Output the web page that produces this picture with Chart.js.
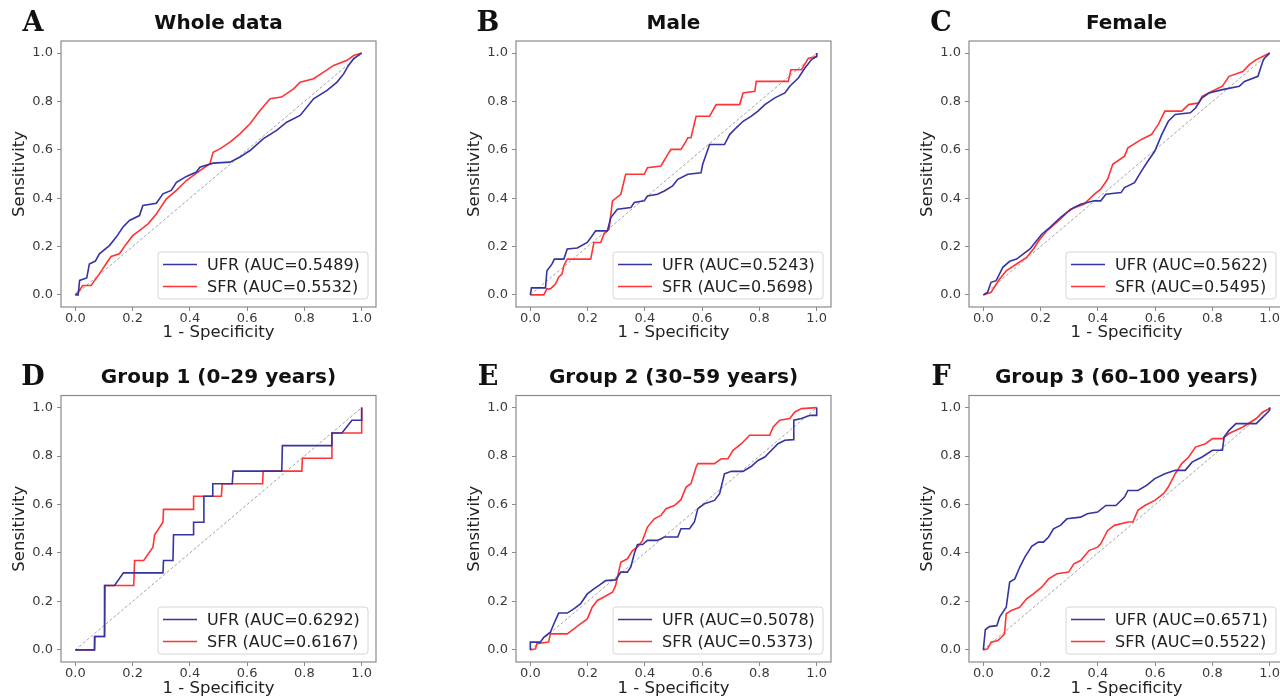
<!DOCTYPE html>
<html lang="en">
<head>
<meta charset="UTF-8">
<title>ROC curves UFR / SFR</title>
<style>
  body {
    margin: 0;
    width: 1280px;
    height: 697px;
    overflow: hidden;
    background: #fff;
    position: relative;
    font-family: "DejaVu Sans", sans-serif;
  }
  .panel {
    position: absolute;
  }
</style>
<script src="https://cdn.jsdelivr.net/npm/chart.js"></script>
</head>
<body>
<div class="panel" style="left:0px;top:0px"><canvas id="pA" width="430" height="350"></canvas></div>
<div class="panel" style="left:455px;top:0px"><canvas id="pB" width="430" height="350"></canvas></div>
<div class="panel" style="left:908px;top:0px"><canvas id="pC" width="430" height="350"></canvas></div>
<div class="panel" style="left:0px;top:340px"><canvas id="pD" width="430" height="357"></canvas></div>
<div class="panel" style="left:455px;top:340px"><canvas id="pE" width="430" height="357"></canvas></div>
<div class="panel" style="left:908px;top:340px"><canvas id="pF" width="430" height="357"></canvas></div>
<script>
// panel labels
const letters = ['A', 'B', 'C', 'D', 'E', 'F'];
const titles = ['Whole data', 'Male', 'Female', 'Group 1 (0\u201329 years)', 'Group 2 (30\u201359 years)', 'Group 3 (60\u2013100 years)'];
const aucUFR = ['0.5489', '0.5243', '0.5622', '0.6292', '0.5078', '0.6571'];
const aucSFR = ['0.5532', '0.5698', '0.5495', '0.6167', '0.5373', '0.5522'];
const tickVals = [0, 0.2, 0.4, 0.6, 0.8, 1.0];
const chance = [[0, 0], [1, 1]];

// [1 - specificity, sensitivity]
const wholeUFR = [[0,0],[0.01,0],[0.015,0.06],[0.04,0.07],[0.049,0.128],[0.07,0.14],[0.084,0.17],[0.119,0.204],[0.143,0.239],[0.166,0.28],[0.189,0.308],[0.224,0.328],[0.236,0.37],[0.283,0.379],[0.306,0.418],[0.335,0.432],[0.353,0.466],[0.388,0.49],[0.423,0.508],[0.435,0.528],[0.481,0.545],[0.54,0.549],[0.575,0.57],[0.61,0.597],[0.657,0.646],[0.703,0.68],[0.738,0.714],[0.785,0.742],[0.832,0.811],[0.879,0.846],[0.914,0.88],[0.937,0.914],[0.954,0.949],[0.972,0.977],[1,1]];
const wholeSFR = [[0,0],[0.014,0.018],[0.026,0.039],[0.055,0.039],[0.084,0.087],[0.107,0.128],[0.125,0.159],[0.154,0.17],[0.178,0.211],[0.201,0.246],[0.224,0.266],[0.254,0.294],[0.283,0.335],[0.318,0.397],[0.353,0.432],[0.388,0.473],[0.435,0.514],[0.47,0.542],[0.481,0.59],[0.505,0.604],[0.54,0.632],[0.575,0.666],[0.61,0.708],[0.645,0.763],[0.68,0.811],[0.72,0.818],[0.762,0.852],[0.785,0.88],[0.832,0.894],[0.867,0.921],[0.902,0.949],[0.949,0.97],[0.972,0.99],[1,1]];

const maleUFR = [[0,0],[0.004,0.029],[0.053,0.029],[0.058,0.1],[0.076,0.128],[0.084,0.148],[0.117,0.148],[0.129,0.19],[0.164,0.194],[0.199,0.217],[0.216,0.245],[0.228,0.265],[0.269,0.265],[0.281,0.32],[0.304,0.354],[0.351,0.361],[0.363,0.382],[0.398,0.389],[0.409,0.409],[0.444,0.416],[0.468,0.43],[0.497,0.451],[0.515,0.478],[0.55,0.499],[0.596,0.505],[0.602,0.54],[0.626,0.622],[0.678,0.622],[0.696,0.663],[0.719,0.691],[0.743,0.718],[0.772,0.739],[0.795,0.76],[0.819,0.787],[0.854,0.815],[0.889,0.835],[0.906,0.863],[0.936,0.897],[0.959,0.938],[0.982,0.973],[1,0.986],[1,1]];
const maleSFR = [[0,0],[0.047,0],[0.058,0.025],[0.07,0.025],[0.088,0.045],[0.099,0.073],[0.111,0.087],[0.117,0.121],[0.129,0.148],[0.211,0.148],[0.222,0.217],[0.246,0.217],[0.257,0.251],[0.275,0.272],[0.287,0.389],[0.316,0.416],[0.333,0.499],[0.398,0.499],[0.409,0.526],[0.456,0.533],[0.48,0.581],[0.491,0.602],[0.526,0.602],[0.544,0.636],[0.55,0.65],[0.561,0.65],[0.579,0.739],[0.626,0.739],[0.649,0.787],[0.731,0.787],[0.743,0.835],[0.784,0.842],[0.789,0.883],[0.901,0.883],[0.91,0.931],[0.947,0.931],[0.971,0.979],[1,0.986],[1,1]];

const femaleUFR = [[0,0],[0.015,0.011],[0.027,0.052],[0.045,0.059],[0.068,0.114],[0.092,0.139],[0.116,0.148],[0.139,0.169],[0.163,0.19],[0.186,0.224],[0.204,0.251],[0.233,0.279],[0.269,0.32],[0.292,0.341],[0.316,0.361],[0.34,0.375],[0.387,0.389],[0.41,0.389],[0.428,0.416],[0.481,0.423],[0.493,0.444],[0.528,0.464],[0.552,0.512],[0.575,0.554],[0.599,0.595],[0.623,0.663],[0.646,0.718],[0.67,0.746],[0.723,0.753],[0.741,0.773],[0.764,0.815],[0.788,0.835],[0.835,0.849],[0.894,0.863],[0.912,0.883],[0.959,0.904],[0.976,0.966],[0.982,0.979],[1,1]];
const femaleSFR = [[0,0],[0.027,0.011],[0.057,0.066],[0.08,0.1],[0.116,0.128],[0.151,0.155],[0.175,0.19],[0.198,0.231],[0.222,0.265],[0.269,0.313],[0.304,0.354],[0.351,0.375],[0.387,0.416],[0.41,0.437],[0.434,0.478],[0.452,0.54],[0.493,0.574],[0.505,0.608],[0.552,0.643],[0.587,0.663],[0.611,0.705],[0.634,0.76],[0.693,0.76],[0.717,0.787],[0.752,0.794],[0.764,0.821],[0.799,0.842],[0.835,0.863],[0.858,0.904],[0.906,0.924],[0.929,0.952],[0.953,0.973],[0.976,0.986],[1,1]];

const group1UFR = [[0,0],[0.067,0],[0.067,0.055],[0.102,0.055],[0.102,0.266],[0.137,0.266],[0.168,0.318],[0.306,0.318],[0.308,0.369],[0.341,0.369],[0.343,0.475],[0.411,0.475],[0.413,0.527],[0.446,0.527],[0.449,0.634],[0.478,0.634],[0.48,0.686],[0.548,0.686],[0.551,0.738],[0.721,0.738],[0.723,0.843],[0.894,0.843],[0.896,0.895],[0.931,0.895],[0.966,0.948],[1,0.948],[1,1]];
const group1SFR = [[0,0],[0.067,0],[0.069,0.055],[0.102,0.055],[0.104,0.266],[0.204,0.266],[0.207,0.369],[0.239,0.369],[0.271,0.424],[0.277,0.475],[0.306,0.527],[0.308,0.58],[0.411,0.58],[0.413,0.634],[0.51,0.634],[0.513,0.686],[0.654,0.686],[0.656,0.738],[0.791,0.738],[0.793,0.791],[0.894,0.791],[0.896,0.895],[1,0.895],[1,1]];

const group2UFR = [[0,0],[0,0.032],[0.035,0.032],[0.047,0.052],[0.07,0.073],[0.082,0.107],[0.099,0.152],[0.129,0.152],[0.152,0.169],[0.175,0.19],[0.199,0.231],[0.222,0.252],[0.24,0.266],[0.263,0.286],[0.298,0.289],[0.316,0.321],[0.339,0.321],[0.351,0.342],[0.363,0.397],[0.374,0.435],[0.392,0.435],[0.409,0.452],[0.444,0.452],[0.468,0.466],[0.515,0.466],[0.526,0.5],[0.556,0.5],[0.573,0.528],[0.585,0.583],[0.608,0.603],[0.643,0.617],[0.661,0.645],[0.678,0.727],[0.702,0.737],[0.743,0.737],[0.772,0.758],[0.795,0.782],[0.819,0.796],[0.842,0.824],[0.865,0.851],[0.889,0.865],[0.918,0.868],[0.92,0.948],[0.947,0.955],[0.977,0.968],[1,0.968],[1,1]];
const group2SFR = [[0,0],[0.018,0.004],[0.023,0.025],[0.064,0.032],[0.07,0.066],[0.129,0.066],[0.152,0.087],[0.175,0.107],[0.199,0.128],[0.216,0.176],[0.234,0.204],[0.257,0.218],[0.287,0.238],[0.298,0.266],[0.316,0.362],[0.339,0.376],[0.357,0.41],[0.374,0.424],[0.392,0.452],[0.409,0.507],[0.433,0.541],[0.456,0.555],[0.474,0.583],[0.503,0.596],[0.526,0.62],[0.544,0.672],[0.561,0.686],[0.579,0.755],[0.585,0.769],[0.643,0.769],[0.667,0.789],[0.69,0.789],[0.708,0.824],[0.737,0.851],[0.766,0.886],[0.836,0.886],[0.848,0.92],[0.871,0.948],[0.906,0.955],[0.924,0.982],[0.947,0.996],[1,1]];

const group3UFR = [[0,0],[0.007,0.083],[0.021,0.096],[0.047,0.1],[0.057,0.135],[0.08,0.176],[0.092,0.28],[0.11,0.293],[0.127,0.341],[0.145,0.383],[0.169,0.427],[0.192,0.445],[0.21,0.445],[0.228,0.466],[0.245,0.5],[0.269,0.514],[0.292,0.541],[0.34,0.548],[0.363,0.562],[0.399,0.569],[0.428,0.596],[0.463,0.596],[0.493,0.631],[0.505,0.658],[0.54,0.658],[0.57,0.679],[0.599,0.707],[0.634,0.727],[0.67,0.741],[0.705,0.741],[0.729,0.775],[0.764,0.796],[0.8,0.824],[0.835,0.824],[0.841,0.879],[0.858,0.906],[0.882,0.934],[0.953,0.934],[0.976,0.961],[1,0.989],[1,1]];
const group3SFR = [[0,0],[0.015,0.004],[0.027,0.032],[0.051,0.039],[0.063,0.052],[0.074,0.066],[0.08,0.149],[0.098,0.163],[0.127,0.176],[0.151,0.211],[0.175,0.231],[0.204,0.259],[0.228,0.293],[0.257,0.314],[0.298,0.321],[0.316,0.355],[0.34,0.369],[0.369,0.41],[0.399,0.424],[0.41,0.438],[0.434,0.493],[0.458,0.514],[0.505,0.528],[0.522,0.528],[0.54,0.576],[0.564,0.596],[0.599,0.617],[0.629,0.645],[0.646,0.672],[0.67,0.727],[0.693,0.769],[0.717,0.796],[0.741,0.837],[0.776,0.851],[0.8,0.872],[0.835,0.872],[0.858,0.893],[0.906,0.92],[0.953,0.955],[0.976,0.982],[1,0.996],[1,1]];

const ufrSets = [wholeUFR, maleUFR, femaleUFR, group1UFR, group2UFR, group3UFR];
const sfrSets = [wholeSFR, maleSFR, femaleSFR, group1SFR, group2SFR, group3SFR];

const UFR_COLOR = '#3434a2';
const SFR_COLOR = '#ff3434';
const FRAME = '#8a8a8a';

// panel letter + title above, matplotlib-like legend box in lower right, frame around axes
const panelPlugin = {
  id: 'panel',
  afterDatasetsDraw(chart, args, opts) {
    const ctx = chart.ctx;
    const ca = chart.chartArea;
    ctx.save();
    // frame
    ctx.strokeStyle = FRAME;
    ctx.lineWidth = 1.2;
    ctx.strokeRect(ca.left, ca.top, ca.right - ca.left, ca.bottom - ca.top);

    // legend
    const bw = 210, bh = 47;
    const bx = ca.right - 8 - bw, by = ca.bottom - 8 - bh;
    ctx.beginPath();
    ctx.roundRect(bx, by, bw, bh, 3);
    ctx.fillStyle = 'rgba(255,255,255,0.85)';
    ctx.fill();
    ctx.strokeStyle = '#d6d6d6';
    ctx.lineWidth = 1;
    ctx.stroke();
    opts.items.forEach((it, i) => {
      const ly = by + 12.5 + i * 22;
      ctx.beginPath();
      ctx.moveTo(bx + 5, ly);
      ctx.lineTo(bx + 39, ly);
      ctx.strokeStyle = it.color;
      ctx.lineWidth = 1.6;
      ctx.stroke();
      ctx.fillStyle = '#222';
      ctx.font = '16px "DejaVu Sans"';
      ctx.textBaseline = 'middle';
      ctx.textAlign = 'left';
      ctx.fillText(it.text, bx + 49, ly + 1);
    });

    // title, centred over the axes
    ctx.fillStyle = '#111';
    ctx.font = 'bold 20px "DejaVu Sans"';
    ctx.textAlign = 'center';
    ctx.textBaseline = 'middle';
    ctx.fillText(opts.title, (ca.left + ca.right) / 2, opts.titleY);

    // panel letter
    ctx.font = 'bold 27px "DejaVu Serif"';
    ctx.fillText(opts.letter, 33, opts.titleY);
    ctx.restore();
  }
};

function toXY(arr) {
  return arr.map(p => ({ x: p[0], y: p[1] }));
}

function axisCommon() {
  return {
    type: 'linear',
    min: -0.05,
    max: 1.05,
    afterBuildTicks: s => { s.ticks = tickVals.map(v => ({ value: v })); },
    grid: { drawOnChartArea: false, tickLength: 4, color: FRAME, tickWidth: 1 },
    border: { display: false },
    ticks: {
      font: { family: 'DejaVu Sans', size: 13 },
      color: '#3a3a3a',
      callback: v => Number(v).toFixed(1),
      maxRotation: 0
    }
  };
}

letters.forEach((letter, i) => {
  const topRow = i < 3;
  const canvas = document.getElementById('p' + letter);
  const xAxis = axisCommon();
  // top row canvases are 350 tall (overlapping the row below) so the axis title is not clipped
  xAxis.afterFit = s => { s.height = topRow ? 43 : 35; };
  xAxis.ticks.padding = 0;
  xAxis.title = { display: true, text: '1 - Specificity', color: '#222',
                  font: { family: 'DejaVu Sans', size: 16.5 },
                  padding: { top: 0, bottom: topRow ? 7 : -2 } };
  const yAxis = axisCommon();
  yAxis.afterFit = s => { s.width = 61; };
  yAxis.ticks.padding = 4;
  yAxis.title = { display: true, text: 'Sensitivity', color: '#222',
                  font: { family: 'DejaVu Sans', size: 16.5 }, padding: { top: 10, bottom: 0 } };

  new Chart(canvas.getContext('2d'), {
    type: 'scatter',
    data: {
      datasets: [
        {
          label: 'UFR (AUC=' + aucUFR[i] + ')',
          data: toXY(ufrSets[i]),
          showLine: true,
          borderColor: UFR_COLOR,
          borderWidth: 1.6,
          pointRadius: 0,
          tension: 0
        },
        {
          label: 'SFR (AUC=' + aucSFR[i] + ')',
          data: toXY(sfrSets[i]),
          showLine: true,
          borderColor: SFR_COLOR,
          borderWidth: 1.6,
          pointRadius: 0,
          tension: 0
        },
        {
          label: 'chance',
          data: toXY(chance),
          showLine: true,
          borderColor: '#9a9a9a',
          borderWidth: 0.9,
          borderDash: [3, 2],
          pointRadius: 0
        }
      ]
    },
    options: {
      responsive: false,
      animation: false,
      layout: { padding: { left: 0, right: 54, top: topRow ? 41 : 55.5, bottom: 0 } },
      scales: { x: xAxis, y: yAxis },
      plugins: {
        legend: { display: false },
        tooltip: { enabled: false },
        panel: {
          letter: letter,
          title: titles[i],
          titleY: topRow ? 24 : 38,
          items: [
            { text: 'UFR (AUC=' + aucUFR[i] + ')', color: UFR_COLOR },
            { text: 'SFR (AUC=' + aucSFR[i] + ')', color: SFR_COLOR }
          ]
        }
      }
    },
    plugins: [panelPlugin]
  });
});
</script>
</body>
</html>
